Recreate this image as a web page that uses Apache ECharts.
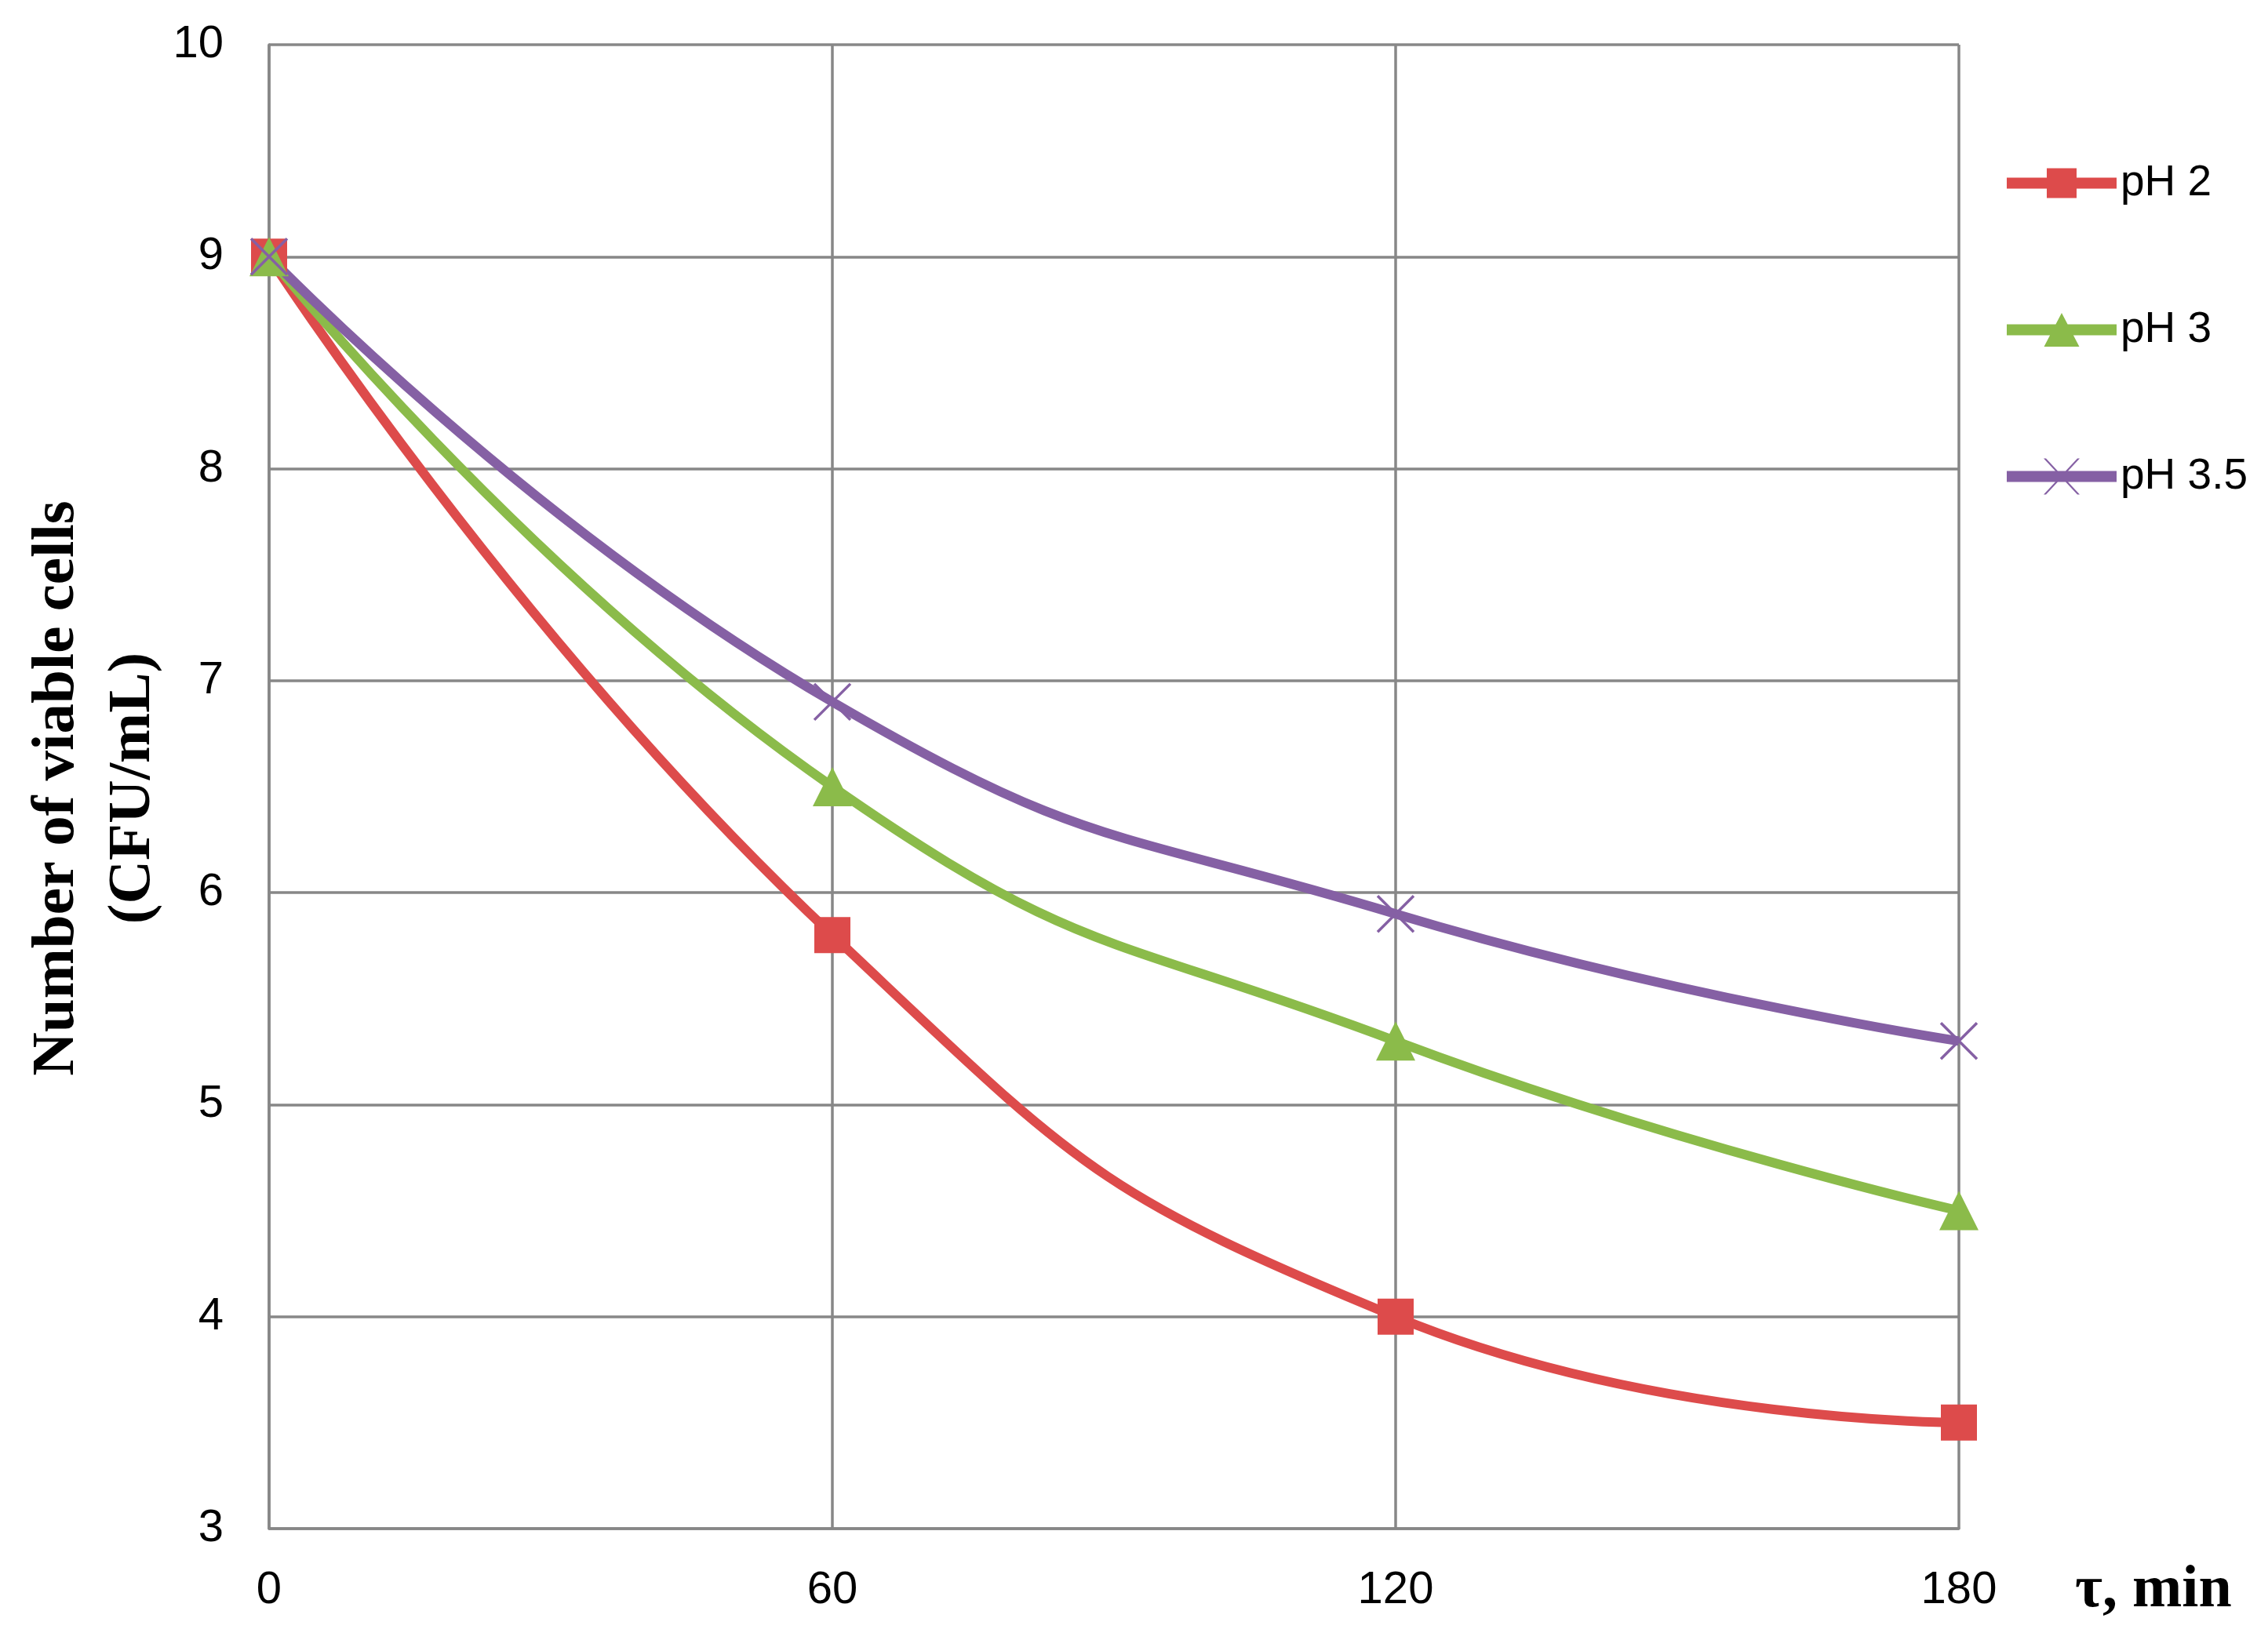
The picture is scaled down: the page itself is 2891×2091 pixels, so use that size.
<!DOCTYPE html>
<html>
<head>
<meta charset="utf-8">
<script src="https://cdn.jsdelivr.net/npm/echarts@6/dist/echarts.min.js"></script>
<style>
html,body{margin:0;padding:0;background:#fff;}
#chart{width:2891px;height:2091px;}
</style>
</head>
<body>
<div id="chart"></div>
<script>
// Data
var timeMin = [0, 60, 120, 180];
var seriesNames = ['pH 2', 'pH 3', 'pH 3.5'];
var pH2 = [9.0, 5.8, 4.0, 3.5];
var pH3 = [9.0, 6.5, 5.3, 4.5];
var pH35 = [9.0, 6.9, 5.9, 5.3];
var yTitle = 'Number of viable cells\n(CFU/mL)';
var xTitle = 'τ, min';

function pairs(xs, ys) { return xs.map(function (x, i) { return [x, ys[i]]; }); }

var chart = echarts.init(document.getElementById('chart'), null, {renderer: 'canvas'});
var gridColor = '#878787';
var colors = ['#DD4B4B', '#8BBB4A', '#8560A4'];
var crossPath = 'path://M0,0L10,10M10,0L0,10';

// legend icons: line bar + marker, in a 140 x 48 box
var anchors = 'M70,0L70,0M70,48L70,48';
var bar = 'M0,17L140,17L140,31L0,31Z';
var legendIcons = [
  'path://' + anchors + bar + 'M51,5L89,5L89,43L51,43Z',
  'path://' + anchors + bar + 'M70,2.5L92.5,45.5L47.5,45.5Z',
  'path://' + anchors + bar + 'M47,1L50,1L93,47L90,47ZM90,1L93,1L50,47L47,47Z'
];

var option = {
  animation: false,
  backgroundColor: '#ffffff',
  grid: {left: 343, right: 394, top: 57, bottom: 142, containLabel: false},
  xAxis: {
    type: 'value', min: 0, max: 180, interval: 60,
    axisLine: {show: true, lineStyle: {color: gridColor, width: 3.5}},
    axisTick: {show: false},
    splitLine: {show: true, lineStyle: {color: gridColor, width: 3.5}},
    axisLabel: {color: '#000', fontFamily: 'Liberation Sans', fontSize: 58, margin: 50}
  },
  yAxis: {
    type: 'value', min: 3, max: 10, interval: 1,
    axisLine: {show: true, lineStyle: {color: gridColor, width: 3.5}},
    axisTick: {show: false},
    splitLine: {show: true, lineStyle: {color: gridColor, width: 3.5}},
    axisLabel: {color: '#000', fontFamily: 'Liberation Sans', fontSize: 58, margin: 58}
  },
  legend: {
    orient: 'vertical', left: 2553, top: 201,
    itemWidth: 140, itemHeight: 48, itemGap: 132,
    symbolKeepAspect: false,
    data: seriesNames.map(function (n, i) {
      return {name: n, icon: legendIcons[i], itemStyle: {color: colors[i], borderWidth: 0}};
    }),
    textStyle: {color: '#000', fontFamily: 'Liberation Sans', fontSize: 55, lineHeight: 48}
  },
  series: [
    {
      name: seriesNames[0], type: 'line', smooth: 0.5,
      data: pairs(timeMin, pH2),
      symbol: 'rect', symbolSize: 46,
      lineStyle: {color: colors[0], width: 12},
      itemStyle: {color: colors[0]}
    },
    {
      name: seriesNames[1], type: 'line', smooth: 0.5,
      data: pairs(timeMin, pH3),
      symbol: 'triangle', symbolSize: 50,
      lineStyle: {color: colors[1], width: 12},
      itemStyle: {color: colors[1]}
    },
    {
      name: seriesNames[2], type: 'line', smooth: 0.5,
      data: pairs(timeMin, pH35),
      symbol: crossPath, symbolSize: 46,
      lineStyle: {color: colors[2], width: 12},
      itemStyle: {color: 'rgba(0,0,0,0)', borderColor: colors[2], borderWidth: 3.5}
    }
  ],
  graphic: [
    {
      type: 'text', x: 122, y: 1005, rotation: Math.PI / 2,
      style: {
        text: yTitle, fill: '#000',
        font: 'bold 77px "Liberation Serif", "Times New Roman", serif',
        lineHeight: 97, align: 'center', verticalAlign: 'middle'
      }
    },
    {
      type: 'text', x: 2645, y: 2028,
      style: {
        text: xTitle, fill: '#000',
        font: 'bold 76px "Liberation Serif", "Times New Roman", serif',
        align: 'left', verticalAlign: 'middle'
      }
    }
  ]
};
chart.setOption(option);
</script>
</body>
</html>
